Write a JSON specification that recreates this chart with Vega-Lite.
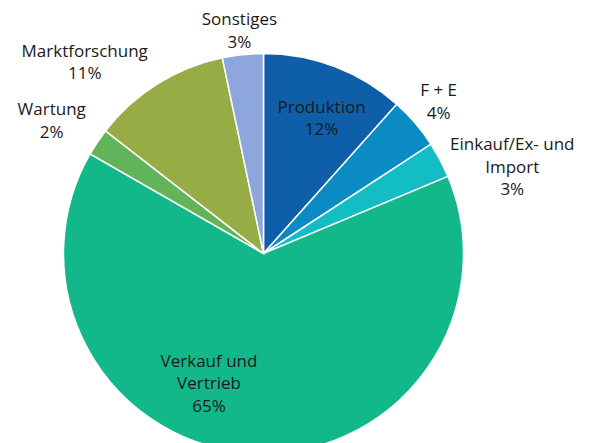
{
  "$schema": "https://vega.github.io/schema/vega-lite/v6.json",
  "autosize": "none",
  "width": 527,
  "height": 507,
  "padding": {"left": 0, "top": 0, "right": 66, "bottom": 0},
  "background": "white",
  "config": {"view": {"stroke": null}, "text": {"font": "Open Sans", "fontSize": 17, "lineBreak": "\n", "lineHeight": 22.5, "fill": "#1a1a1a"}},
  "data": {"values": [
    {"name": "Produktion", "share": 11.6},
    {"name": "F + E", "share": 4.2},
    {"name": "Einkauf/Ex- und\nImport", "share": 2.9},
    {"name": "Verkauf und\nVertrieb", "share": 64.6},
    {"name": "Wartung", "share": 2.2},
    {"name": "Marktforschung", "share": 11.2},
    {"name": "Sonstiges", "share": 3.3}
  ]},
  "transform": [
    {"window": [{"op": "row_number", "as": "i"}]},
    {"stack": "share", "groupby": [], "sort": [{"field": "i", "order": "ascending"}], "as": ["s0", "s1"]},
    {"calculate": "(datum.s0 + datum.s1) / 2", "as": "mid"},
    {"calculate": "datum.name + '\\n' + format(datum.share, '.0f') + '%'", "as": "lbl"}
  ],
  "layer": [
    {
      "mark": {"type": "arc", "outerRadius": 200, "stroke": "white", "strokeWidth": 1.5},
      "encoding": {
        "theta": {"field": "s0", "type": "quantitative", "scale": {"domain": [0, 100]}, "stack": null},
        "theta2": {"field": "s1"},
        "color": {
          "field": "name", "type": "nominal", "legend": null,
          "scale": {
            "domain": ["Produktion", "F + E", "Einkauf/Ex- und\nImport", "Verkauf und\nVertrieb", "Wartung", "Marktforschung", "Sonstiges"],
            "range": ["#0E5EAA", "#0B8BC4", "#13BDC4", "#12B889", "#62B45B", "#97AC44", "#8DA6DB"]
          }
        }
      }
    },
    {
      "transform": [{"filter": "datum.name === 'Produktion'"}],
      "mark": {"type": "text", "radius": 146, "dx": 6, "dy": -9.5},
      "encoding": {"theta": {"field": "mid", "type": "quantitative", "stack": null}, "text": {"field": "lbl"}}
    },
    {
      "transform": [{"filter": "datum.name === 'F + E'"}],
      "mark": {"type": "text", "radius": 231, "dx": 0, "dy": -11.5},
      "encoding": {"theta": {"field": "mid", "type": "quantitative", "stack": null}, "text": {"field": "lbl"}}
    },
    {
      "transform": [{"filter": "datum.i === 3"}],
      "mark": {"type": "text", "radius": 260, "dx": 19, "dy": 13.5},
      "encoding": {"theta": {"field": "mid", "type": "quantitative", "stack": null}, "text": {"field": "lbl"}}
    },
    {
      "transform": [{"filter": "datum.i === 4"}],
      "mark": {"type": "text", "radius": 135, "dx": -46, "dy": -26.5},
      "encoding": {"theta": {"field": "mid", "type": "quantitative", "stack": null}, "text": {"field": "lbl"}}
    },
    {
      "transform": [{"filter": "datum.name === 'Wartung'"}],
      "mark": {"type": "text", "radius": 249, "dx": -5, "dy": -4.5},
      "encoding": {"theta": {"field": "mid", "type": "quantitative", "stack": null}, "text": {"field": "lbl"}}
    },
    {
      "transform": [{"filter": "datum.name === 'Marktforschung'"}],
      "mark": {"type": "text", "radius": 256, "dx": -43, "dy": 15.5},
      "encoding": {"theta": {"field": "mid", "type": "quantitative", "stack": null}, "text": {"field": "lbl"}}
    },
    {
      "transform": [{"filter": "datum.name === 'Sonstiges'"}],
      "mark": {"type": "text", "radius": 223, "dx": -1, "dy": -11.5},
      "encoding": {"theta": {"field": "mid", "type": "quantitative", "stack": null}, "text": {"field": "lbl"}}
    }
  ]
}
